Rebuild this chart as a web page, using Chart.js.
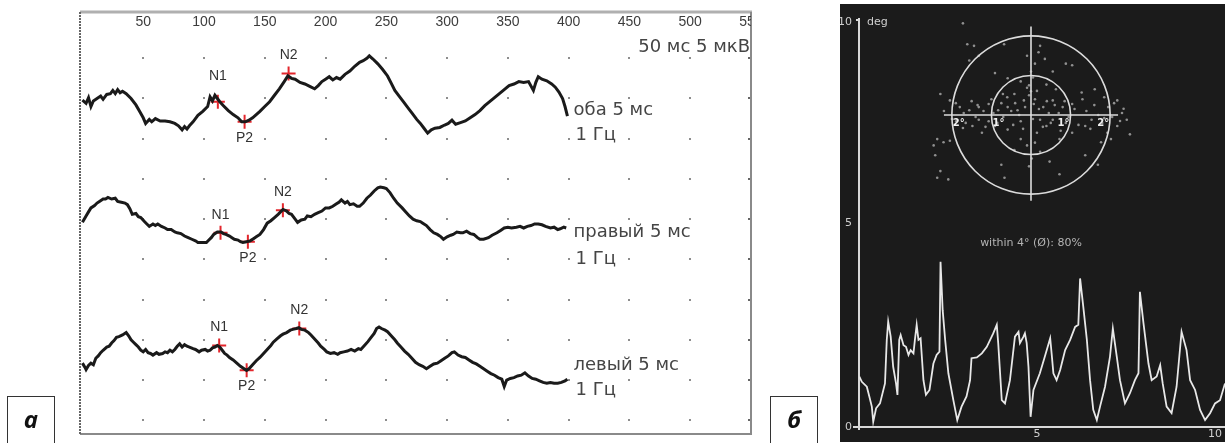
<!DOCTYPE html>
<html lang="ru">
<head>
<meta charset="UTF-8">
<title>ВП и стабильность фиксации</title>
<script src="https://cdn.jsdelivr.net/npm/chart.js"></script>
<style>
  body { margin: 0; background: #fff; width: 1225px; height: 443px; overflow: hidden; position: relative; }
  #wrapA { position: absolute; left: 0; top: 0; width: 780px; height: 443px; }
  #wrapB { position: absolute; left: 840px; top: 4px; width: 385px; height: 438px; background: #1b1b1b; }
  #wrapC { position: absolute; left: 916px; top: 5px; width: 230px; height: 220px; }
  .tag { position: absolute; top: 396px; width: 48px; height: 47px; border: 1px solid #333; border-bottom: none;
         box-sizing: border-box; font: italic 700 24px "Open Sans", sans-serif; text-align: center; line-height: 44px; color: #111; }
</style>
</head>
<body>
<div id="wrapA"><canvas id="evoked" width="780" height="443"></canvas></div>
<div class="tag" style="left:7px">а</div>
<div class="tag" style="left:770px">б</div>
<div id="wrapB"><canvas id="gaze" width="385" height="438"></canvas></div>
<div id="wrapC"><canvas id="fixation" width="230" height="220"></canvas></div>

<script>
// ---- panel а: evoked potentials, [ms, µV] ----
const timeTicks = [50, 100, 150, 200, 250, 300, 350, 400, 450, 500, 550];
const gridCols = [50, 100, 150, 200, 250, 300, 350, 400, 450, 500];
const gridRows = [5, 10, 15, 20, 25, 30, 35, 40, 45, 50];

const traceBoth = [[0,-0.2],[3,-0.6],[5,0.1],[7,-1.0],[9,-0.3],[12,0.0],[15,0.3],[17,-0.1],[20,0.5],[23,0.6],[25,1.0],[27,0.6],[29,1.1],[31,0.7],[33,0.9],[36,0.6],[40,0.0],[44,-0.8],[47,-1.6],[50,-2.4],[52,-3.1],[55,-2.6],[57,-2.9],[60,-2.5],[64,-2.8],[68,-2.8],[72,-2.9],[76,-3.1],[79,-3.4],[82,-3.9],[84,-3.5],[86,-3.8],[88,-3.4],[91,-2.9],[95,-2.1],[99,-1.6],[103,-1.0],[105,0.2],[107,-0.3],[109,0.4],[111,0.0],[113,-0.4],[116,-0.9],[120,-1.5],[124,-2.0],[128,-2.4],[131,-2.9],[134,-2.9],[137,-2.7],[140,-2.4],[143,-2.0],[146,-1.6],[150,-1.0],[154,-0.4],[158,0.4],[162,1.2],[166,2.1],[169,2.8],[172,2.5],[175,2.4],[179,2.0],[183,1.8],[187,1.5],[191,1.2],[194,1.6],[197,2.1],[200,2.4],[203,2.7],[206,2.3],[209,2.6],[212,2.4],[216,3.0],[220,3.4],[224,4.0],[228,4.5],[231,4.7],[234,5.0],[236,5.3],[239,4.9],[243,4.3],[247,3.6],[251,2.8],[254,1.9],[257,1.0],[261,0.2],[264,-0.4],[268,-1.2],[271,-1.8],[275,-2.6],[278,-3.1],[281,-3.7],[284,-4.3],[287,-3.9],[290,-3.7],[294,-3.6],[298,-3.3],[301,-3.1],[304,-2.7],[307,-3.2],[311,-3.0],[315,-2.8],[319,-2.4],[323,-2.0],[327,-1.5],[331,-0.9],[335,-0.4],[339,0.1],[343,0.6],[347,1.1],[351,1.6],[355,1.8],[359,2.1],[363,2.0],[367,2.1],[371,1.0],[373,2.0],[375,2.7],[378,2.4],[382,2.2],[386,1.8],[389,1.4],[392,0.8],[395,0.0],[397,-1.0],[399,-2.2]];

const traceRight = [[0,-0.4],[3,0.4],[5,0.9],[7,1.4],[10,1.7],[12,2.0],[14,2.2],[17,2.5],[19,2.5],[21,2.7],[24,2.5],[27,2.6],[29,2.2],[32,2.1],[35,2.0],[37,1.8],[39,1.3],[41,0.6],[44,0.7],[46,0.3],[48,0.2],[51,-0.3],[53,-0.6],[55,-0.9],[58,-0.6],[60,-0.8],[62,-0.6],[65,-0.9],[68,-1.1],[70,-1.3],[73,-1.3],[76,-1.6],[78,-1.7],[81,-1.8],[84,-2.1],[87,-2.3],[90,-2.5],[93,-2.7],[95,-2.9],[98,-2.9],[100,-2.9],[102,-2.9],[104,-2.6],[106,-2.3],[108,-1.9],[111,-1.6],[114,-1.6],[116,-1.8],[118,-1.9],[121,-2.1],[123,-2.3],[125,-2.5],[128,-2.6],[130,-2.8],[132,-2.9],[135,-2.8],[138,-2.7],[141,-2.4],[143,-2.2],[146,-1.9],[149,-1.3],[152,-0.5],[155,-0.2],[158,0.2],[161,0.6],[163,0.9],[165,1.2],[168,1.0],[170,0.7],[172,0.6],[175,0.0],[177,-0.4],[180,-0.1],[183,0.0],[185,0.4],[188,0.3],[191,0.6],[194,0.8],[197,1.0],[200,1.4],[203,1.4],[206,1.6],[209,1.9],[211,2.1],[213,2.4],[216,2.0],[218,2.2],[220,1.8],[223,1.9],[226,1.6],[228,1.6],[231,2.0],[234,2.6],[237,3.0],[240,3.5],[243,3.9],[245,4.0],[248,3.9],[250,3.8],[253,3.3],[256,2.6],[259,2.0],[263,1.4],[266,0.9],[269,0.4],[272,0.0],[275,-0.2],[278,-0.3],[280,-0.5],[283,-0.8],[286,-1.3],[289,-1.7],[292,-1.9],[295,-2.2],[297,-2.5],[300,-2.2],[303,-2.0],[305,-1.9],[308,-1.6],[311,-1.7],[313,-1.7],[316,-1.5],[319,-1.8],[322,-1.9],[325,-2.3],[327,-2.5],[330,-2.5],[334,-2.3],[337,-2.0],[341,-1.7],[344,-1.4],[347,-1.1],[350,-1.0],[353,-1.1],[357,-1.0],[360,-0.9],[363,-1.1],[366,-0.9],[369,-0.8],[372,-0.6],[375,-0.6],[378,-0.7],[381,-0.9],[385,-1.1],[388,-1.0],[391,-1.3],[393,-1.2],[396,-1.0],[398,-1.1]];

const traceLeft = [[0,-2.9],[2,-3.4],[3,-3.7],[5,-3.2],[7,-2.9],[9,-3.1],[11,-2.3],[13,-2.0],[15,-1.6],[17,-1.3],[20,-0.9],[22,-0.8],[24,-0.4],[26,-0.1],[28,0.3],[30,0.4],[33,0.6],[36,0.9],[38,0.5],[40,0.0],[42,-0.3],[44,-0.6],[46,-0.9],[48,-1.3],[50,-1.5],[52,-1.2],[54,-1.6],[56,-1.7],[58,-1.9],[61,-1.6],[63,-1.8],[66,-1.7],[68,-1.5],[70,-1.6],[72,-1.3],[74,-1.5],[76,-1.2],[78,-0.8],[80,-0.5],[82,-0.9],[84,-0.6],[86,-0.8],[88,-0.9],[91,-1.1],[93,-1.2],[96,-1.5],[98,-1.3],[101,-1.2],[103,-1.4],[105,-1.3],[107,-1.0],[109,-0.9],[111,-0.7],[113,-0.9],[115,-1.3],[117,-1.7],[119,-1.9],[121,-2.2],[124,-2.5],[127,-2.9],[130,-3.3],[133,-3.6],[135,-3.8],[137,-3.6],[140,-3.1],[143,-2.6],[146,-2.2],[149,-1.7],[152,-1.2],[155,-0.7],[157,-0.3],[160,0.1],[163,0.5],[165,0.7],[168,0.9],[171,1.2],[173,1.3],[176,1.4],[178,1.5],[180,1.3],[183,1.2],[186,0.9],[188,0.6],[191,0.1],[194,-0.4],[196,-0.8],[199,-1.2],[201,-1.5],[204,-1.7],[207,-1.6],[210,-1.8],[212,-1.6],[215,-1.5],[218,-1.4],[221,-1.2],[224,-1.4],[227,-1.1],[229,-1.2],[232,-0.7],[235,-0.2],[237,0.2],[240,0.8],[242,1.4],[244,1.6],[246,1.4],[249,1.2],[251,1.0],[254,0.5],[257,0.0],[259,-0.4],[262,-0.9],[265,-1.4],[268,-1.8],[271,-2.3],[274,-2.8],[277,-3.1],[280,-3.3],[283,-3.6],[286,-3.3],[289,-3.0],[292,-2.9],[295,-2.6],[298,-2.3],[301,-2.0],[304,-1.6],[306,-1.5],[309,-1.9],[312,-2.1],[315,-2.2],[318,-2.5],[321,-2.8],[324,-3.0],[327,-3.3],[330,-3.6],[333,-3.9],[336,-4.2],[339,-4.4],[342,-4.7],[345,-4.9],[347,-5.8],[349,-5.0],[352,-4.8],[355,-4.7],[358,-4.5],[361,-4.4],[364,-4.1],[367,-4.5],[370,-4.8],[373,-4.9],[376,-5.1],[379,-5.3],[382,-5.4],[385,-5.3],[388,-5.4],[391,-5.4],[394,-5.3],[397,-5.1],[399,-4.9]];

const peakNames = ['N1', 'P2', 'N2'];
const peaksBoth = [[111.4,-0.4],[133.4,-2.9],[169.6,3.1]];
const peaksRight = [[113.6,-1.7],[136.1,-2.8],[164.9,1.1]];
const peaksLeft = [[112.5,-0.7],[135.1,-3.8],[178.4,1.4]];

const traceNames = ['оба 5 мс', 'правый 5 мс', 'левый 5 мс'];
const rateText = '1 Гц';
const scaleText = '50 мс 5 мкВ';

// ---- panel б: gaze deviation over time, [s, deg] ----
const gazeTrace = [[0.01,1.24],[0.08,1.11],[0.22,0.99],[0.29,0.75],[0.36,0.50],[0.40,0.13],[0.48,0.46],[0.59,0.58],[0.73,1.07],[0.78,2.14],[0.82,2.59],[0.89,2.22],[0.96,1.48],[1.04,1.07],[1.08,0.79],[1.13,2.14],[1.17,2.26],[1.25,2.01],[1.32,1.97],[1.39,1.77],[1.45,1.89],[1.53,1.81],[1.57,2.14],[1.62,2.51],[1.67,2.14],[1.73,2.18],[1.81,1.15],[1.88,0.79],[1.98,0.91],[2.09,1.56],[2.18,1.77],[2.26,1.85],[2.29,4.06],[2.35,2.87],[2.42,2.14],[2.51,1.32],[2.65,0.66],[2.76,0.17],[2.88,0.50],[3.02,0.75],[3.12,1.15],[3.16,1.69],[3.31,1.71],[3.45,1.81],[3.59,1.97],[3.77,2.30],[3.87,2.51],[3.91,2.06],[4.01,0.66],[4.10,0.58],[4.24,1.15],[4.38,2.22],[4.48,2.34],[4.52,2.06],[4.62,2.22],[4.66,2.30],[4.71,2.06],[4.76,1.48],[4.82,0.25],[4.90,0.91],[5.08,1.32],[5.22,1.73],[5.37,2.18],[5.41,1.81],[5.46,1.32],[5.55,1.15],[5.65,1.40],[5.79,1.89],[5.93,2.14],[6.07,2.46],[6.16,2.51],[6.21,3.65],[6.30,2.95],[6.40,2.14],[6.49,1.15],[6.58,0.42],[6.68,0.17],[6.77,0.50],[6.91,0.99],[7.05,1.73],[7.13,2.42],[7.24,1.73],[7.33,1.15],[7.47,0.58],[7.61,0.83],[7.75,1.15],[7.85,1.32],[7.89,3.32],[7.99,2.55],[8.13,1.56],[8.22,1.15],[8.36,1.24],[8.46,1.52],[8.53,1.07],[8.64,0.50],[8.78,0.34],[8.92,0.99],[9.06,2.34],[9.20,1.89],[9.30,1.15],[9.44,0.91],[9.58,0.42],[9.72,0.17],[9.86,0.34],[10.0,0.58],[10.14,0.66],[10.28,1.07]];
const gazeYTicks = [0, 5, 10];
const gazeXTicks = [5, 10];

// fixation points, [deg horizontal, deg vertical]
const fixations = [[-1.72,2.32],[-1.61,1.79],[-1.44,1.75],[-1.32,1.50],[-1.56,1.38],[-0.68,1.79],[0.23,1.75],[0.19,1.59],[0.35,1.42],[0.88,1.30],[1.04,1.26],[0.55,1.10],[-0.91,1.06],[-0.59,0.93],[-0.26,0.85],[-0.10,0.69],[0.15,0.61],[0.39,0.77],[0.63,0.65],[-0.42,0.53],[-0.71,0.53],[1.28,0.57],[1.61,0.65],[1.85,0.45],[-2.05,0.37],[-2.29,0.53],[2.18,0.37],[2.34,0.16],[2.42,-0.12],[2.50,-0.49],[2.18,-0.28],[1.93,-0.45],[1.77,-0.69],[1.37,-0.28],[1.04,-0.45],[0.72,-0.61],[0.39,-0.28],[0.15,-0.45],[-0.26,-0.61],[-0.59,-0.37],[-0.91,-0.28],[-1.24,-0.45],[-1.48,-0.28],[-1.72,-0.33],[-2.37,-0.61],[-2.46,-0.77],[-2.21,-0.69],[-2.05,-0.65],[-2.42,-1.02],[-2.29,-1.42],[-2.37,-1.59],[-2.09,-1.63],[-0.67,-1.59],[-0.75,-1.26],[0.47,-1.18],[0.72,-1.50],[1.37,-1.02],[1.69,-1.26],[2.02,-0.61],[-0.18,0.37],[0.07,0.28],[0.31,0.20],[0.55,0.37],[0.80,0.20],[1.04,0.28],[-1.07,0.28],[-1.32,0.20],[-1.56,0.12],[-1.80,0.20],[-0.83,0.12],[-0.59,0.20],[-0.34,0.12],[0.55,-0.12],[0.88,-0.20],[1.53,-0.12],[1.85,-0.08],[-1.07,-0.16],[-1.32,-0.12],[-1.89,-0.16],[-0.26,-0.16],[0.23,-0.12],[-0.10,-0.77],[-0.42,-0.89],[0.23,-0.93],[-2.2,0.1],[-2.0,-0.1],[-1.9,0.3],[-1.7,0.05],[-1.65,-0.2],[-1.5,0.35],[-1.4,-0.05],[-1.35,0.25],[-1.2,0.1],[-1.15,-0.3],[-1.0,0.4],[-0.95,0.05],[-0.85,-0.2],[-0.75,0.3],[-0.7,-0.05],[-0.6,0.45],[-0.5,0.1],[-0.45,-0.25],[-0.4,0.3],[-0.3,0.0],[-0.2,-0.35],[-0.15,0.2],[-0.05,0.5],[0.05,-0.1],[0.1,0.4],[0.2,0.15],[0.3,-0.3],[0.4,0.35],[0.45,0.05],[0.5,-0.2],[0.6,0.25],[0.7,0.05],[0.75,-0.4],[0.85,0.35],[0.95,-0.05],[1.1,0.15],[1.2,-0.25],[1.3,0.4],[1.4,0.1],[1.5,-0.35],[1.6,0.25],[1.7,0.0],[1.8,-0.2],[1.95,0.2],[2.05,-0.05],[2.1,0.3],[2.25,-0.15],[2.3,0.05],[0.0,1.1],[0.05,0.95],[-0.05,0.75],[0.1,1.3],[0.0,0.6],[-0.1,1.5],[0.02,-1.1],[-0.05,-1.3],[0.1,-0.7]];
const ringDegrees = [1, 2];
const withinText = 'within 4° (Ø): 80%';

// ---- layout ----
const traceBase = [45, 30, 15];          // vertical offset of each trace, µV
const nameGap = [[12, 37], [13, 40], [26, 51]]; // px below baseline for the two label lines
const traceInk = '#1a1a1a';
const peakRed = '#e3262c';

const toXY = (arr, base) => arr.map(p => ({x: p[0], y: p[1] + (base || 0)}));
const traces = [traceBoth, traceRight, traceLeft];
const peaks = [peaksBoth, peaksRight, peaksLeft];

// ---------- panel а ----------
const panelA = {
  id: 'panelA',
  beforeDatasetsDraw(chart) {
    const {ctx, chartArea: a, scales: {x, y}} = chart;
    ctx.save();
    ctx.fillStyle = '#8d8d8d';
    gridCols.forEach(c => gridRows.forEach(r => {
      ctx.fillRect(Math.round(x.getPixelForValue(c)) - 1, Math.round(y.getPixelForValue(r)) - 1, 2, 2);
    }));
    // small marks on the right frame
    ctx.fillStyle = '#666';
    gridRows.forEach(r => ctx.fillRect(a.right - 3, Math.round(y.getPixelForValue(r)) - 1, 3, 2));
    // frame
    ctx.strokeStyle = '#b0b0b0'; ctx.lineWidth = 3;
    ctx.beginPath(); ctx.moveTo(a.left, a.top); ctx.lineTo(a.right + 1, a.top); ctx.stroke();
    ctx.strokeStyle = '#8a8a8a'; ctx.lineWidth = 2;
    ctx.beginPath(); ctx.moveTo(a.right, a.top); ctx.lineTo(a.right, a.bottom); ctx.lineTo(a.left, a.bottom); ctx.stroke();
    ctx.strokeStyle = '#666'; ctx.lineWidth = 2; ctx.setLineDash([2, 1]);
    ctx.beginPath(); ctx.moveTo(a.left, a.top); ctx.lineTo(a.left, a.bottom); ctx.stroke();
    ctx.setLineDash([]);
    // time labels along the top, cut by the frame
    ctx.beginPath(); ctx.rect(a.left, a.top, a.right - a.left, a.bottom - a.top); ctx.clip();
    ctx.font = '14px "Liberation Sans", Arial, sans-serif';
    ctx.fillStyle = '#3c3c3c'; ctx.textAlign = 'center'; ctx.textBaseline = 'middle';
    timeTicks.forEach(t => ctx.fillText(String(t), x.getPixelForValue(t), a.top + 10));
    ctx.restore();
  },
  afterDatasetsDraw(chart) {
    const {ctx, chartArea: a, scales: {x, y}} = chart;
    ctx.save();
    ctx.font = '14px "Liberation Sans", Arial, sans-serif';
    ctx.fillStyle = '#333'; ctx.textAlign = 'center'; ctx.textBaseline = 'middle';
    peaks.forEach((list, i) => list.forEach((p, j) => {
      const px = x.getPixelForValue(p[0]);
      const py = y.getPixelForValue(p[1] + traceBase[i]);
      const isPos = peakNames[j][0] === 'P';
      const gap = isPos ? 16 : (i === 0 && j === 0 ? -26 : -18);
      ctx.fillText(peakNames[j], px, py + gap);
    }));
    ctx.font = '18px "DejaVu Sans", sans-serif';
    ctx.fillStyle = '#454545'; ctx.textAlign = 'left';
    const lx = x.getPixelForValue(404);
    traceNames.forEach((name, i) => {
      const by = y.getPixelForValue(traceBase[i]);
      ctx.fillText(name, lx, by + nameGap[i][0]);
      ctx.fillText(rateText, lx + 2, by + nameGap[i][1]);
    });
    ctx.textAlign = 'right';
    ctx.fillText(scaleText, a.right - 1, a.top + 35);
    ctx.restore();
  }
};

const dsA = [];
traces.forEach((tr, i) => {
  dsA.push({
    data: toXY(tr, traceBase[i]), borderColor: traceInk, borderWidth: 3,
    pointRadius: 0, tension: 0, fill: false
  });
});
peaks.forEach((pk, i) => {
  dsA.push({
    data: toXY(pk, traceBase[i]), showLine: false, pointStyle: 'cross',
    pointRadius: 7, borderColor: peakRed, borderWidth: 2, backgroundColor: peakRed
  });
});

new Chart(document.getElementById('evoked'), {
  type: 'line',
  data: {datasets: dsA},
  options: {
    responsive: false, animation: false,
    layout: {padding: {left: 80, top: 12, right: 29, bottom: 2}},
    plugins: {legend: {display: false}, tooltip: {enabled: false}},
    scales: {
      x: {type: 'linear', min: -2, max: 550, display: false},
      y: {type: 'linear', min: 3.29, max: 55.75, display: false}
    }
  },
  plugins: [panelA]
});

// ---------- panel б, time course ----------
const panelB = {
  id: 'panelB',
  beforeDatasetsDraw(chart) {
    const {ctx, chartArea: a, scales: {x, y}} = chart;
    const x0 = x.getPixelForValue(0), y0 = y.getPixelForValue(0);
    ctx.save();
    ctx.strokeStyle = '#d8d8d8'; ctx.lineWidth = 2;
    ctx.beginPath();
    ctx.moveTo(x0, y.getPixelForValue(10) - 2); ctx.lineTo(x0, y0 + 3);
    ctx.moveTo(x0 - 6, y0); ctx.lineTo(a.right, y0);
    ctx.moveTo(x0 - 3, y.getPixelForValue(10)); ctx.lineTo(x0, y.getPixelForValue(10));
    ctx.stroke();
    ctx.font = '11px "DejaVu Sans", sans-serif';
    ctx.fillStyle = '#cfcfcf'; ctx.textBaseline = 'middle';
    ctx.textAlign = 'right';
    gazeYTicks.forEach(v => ctx.fillText(String(v), x0 - 7, y.getPixelForValue(v) + (v === 10 ? 2 : 0)));
    ctx.textAlign = 'left';
    ctx.fillText('deg', x0 + 8, y.getPixelForValue(10) + 2);
    ctx.textAlign = 'center';
    gazeXTicks.forEach(v => ctx.fillText(String(v), x.getPixelForValue(v), y0 + 7));
    ctx.fillStyle = '#b4b4b4';
    ctx.fillText(withinText, 191, 239);
    ctx.restore();
  }
};

new Chart(document.getElementById('gaze'), {
  type: 'line',
  data: {datasets: [{
    data: toXY(gazeTrace), borderColor: '#e8e8e8', borderWidth: 1.8,
    pointRadius: 0, tension: 0, fill: false
  }]},
  options: {
    responsive: false, animation: false,
    layout: {padding: {left: 19, top: 16, right: 0, bottom: 15}},
    plugins: {legend: {display: false}, tooltip: {enabled: false}},
    scales: {
      x: {type: 'linear', min: 0, max: 10.28, display: false},
      y: {type: 'linear', min: 0, max: 10, display: false}
    }
  },
  plugins: [panelB]
});

// ---------- panel б, fixation target ----------
const panelC = {
  id: 'panelC',
  afterDatasetsDraw(chart) {
    const {ctx, scales: {x, y}} = chart;
    const cx = x.getPixelForValue(0), cy = y.getPixelForValue(0);
    const unit = x.getPixelForValue(1) - cx;
    ctx.save();
    ctx.strokeStyle = '#dcdcdc'; ctx.lineWidth = 1.6;
    ringDegrees.forEach(r => {
      ctx.beginPath(); ctx.arc(cx, cy, r * unit, 0, Math.PI * 2); ctx.stroke();
    });
    ctx.beginPath();
    ctx.moveTo(x.getPixelForValue(-2.2), cy); ctx.lineTo(x.getPixelForValue(2.2), cy);
    ctx.moveTo(cx, y.getPixelForValue(2.24)); ctx.lineTo(cx, y.getPixelForValue(-2.17));
    ctx.stroke();
    ctx.font = 'bold 10px "DejaVu Sans", sans-serif';
    ctx.fillStyle = '#f2f2f2'; ctx.textBaseline = 'middle';
    ringDegrees.forEach(r => {
      ctx.textAlign = 'left';
      ctx.fillText(r + '°', x.getPixelForValue(-r) + 1, cy + 8);
      ctx.textAlign = 'right';
      ctx.fillText(r + '°', x.getPixelForValue(r) - 1, cy + 8);
    });
    ctx.restore();
  }
};

new Chart(document.getElementById('fixation'), {
  type: 'scatter',
  data: {datasets: [{
    data: toXY(fixations), pointRadius: 1.3, borderWidth: 0,
    backgroundColor: 'rgba(165,165,165,0.85)'
  }]},
  options: {
    responsive: false, animation: false,
    layout: {padding: 0},
    plugins: {legend: {display: false}, tooltip: {enabled: false}},
    scales: {
      x: {type: 'linear', min: -2.805, max: 2.805, display: false},
      y: {type: 'linear', min: -2.683, max: 2.683, display: false}
    }
  },
  plugins: [panelC]
});
</script>
</body>
</html>
